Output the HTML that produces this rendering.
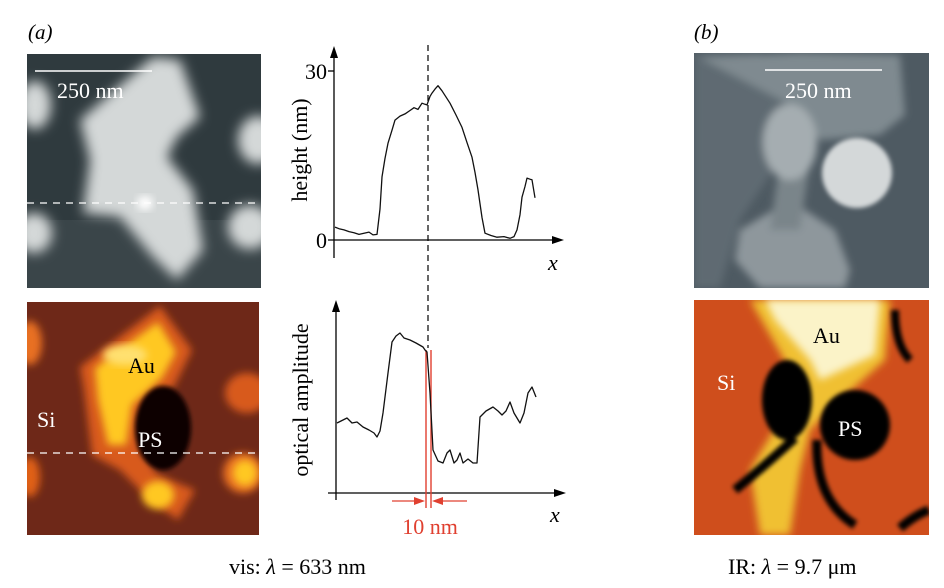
<!DOCTYPE html>
<html><head><meta charset="utf-8"><style>
html,body{margin:0;padding:0;background:#fff}
svg{display:block}
text{font-family:"Liberation Serif",serif}
</style></head><body>
<svg width="944" height="588" viewBox="0 0 944 588">
<defs>
<filter id="b4" x="-20%" y="-20%" width="140%" height="140%"><feGaussianBlur stdDeviation="4"/></filter>
<filter id="b6" x="-20%" y="-20%" width="140%" height="140%"><feGaussianBlur stdDeviation="6"/></filter>
<filter id="b2"><feGaussianBlur stdDeviation="2"/></filter>
<clipPath id="c1"><rect x="27" y="54" width="234" height="234"/></clipPath>
<clipPath id="c2"><rect x="27" y="302" width="232" height="233"/></clipPath>
<clipPath id="c3"><rect x="694" y="53" width="235" height="235"/></clipPath>
<clipPath id="c4"><rect x="694" y="300" width="235" height="235"/></clipPath>
</defs>

<text x="28" y="39" font-size="21" font-style="italic">(a)</text>
<text x="694" y="39" font-size="21" font-style="italic">(b)</text>

<g clip-path="url(#c1)">
<rect x="27" y="54" width="234" height="234" fill="#2f3a3e"/>
<rect x="27" y="220" width="234" height="68" fill="#3a4549"/>
<g filter="url(#b6)" fill="#d4d8d8">
<polygon points="80,120 153,57 180,60 200,117 177,137 167,157 193,190 203,250 177,280 153,257 120,217 83,213 90,160"/>
<ellipse cx="35" cy="105" rx="16" ry="24"/>
<ellipse cx="258" cy="140" rx="20" ry="24"/>
<ellipse cx="34" cy="233" rx="18" ry="20"/>
<ellipse cx="250" cy="227" rx="22" ry="22"/>
</g>
<ellipse cx="145" cy="203" rx="8" ry="7" fill="#ffffff" filter="url(#b4)"/>
<line x1="27" y1="203" x2="261" y2="203" stroke="#fff" stroke-width="1.2" stroke-dasharray="7,6"/>
<line x1="35" y1="71" x2="152" y2="71" stroke="#fff" stroke-width="1.5"/>
<text x="57" y="98" font-size="22" fill="#fff">250 nm</text>
</g>

<g clip-path="url(#c2)">
<rect x="27" y="302" width="232" height="233" fill="#6e2818"/>
<g filter="url(#b4)">
<polygon fill="#d85a1a" points="80,367 160,306 192,350 175,385 142,420 140,450 158,475 195,490 178,520 150,500 120,470 92,455 84,390"/>
<ellipse cx="30" cy="343" rx="12" ry="22" fill="#e87020"/>
<ellipse cx="247" cy="393" rx="22" ry="20" fill="#d85a1c"/>
<ellipse cx="243" cy="473" rx="20" ry="20" fill="#e87020"/>
<ellipse cx="30" cy="477" rx="10" ry="20" fill="#e06018"/>
</g>
<g filter="url(#b4)" fill="#ffc820">
<polygon points="95,368 158,322 176,352 162,378 132,405 126,445 108,445 98,400"/>
<ellipse cx="158" cy="495" rx="16" ry="14"/>
<ellipse cx="245" cy="473" rx="12" ry="13"/>
</g>
<ellipse cx="125" cy="355" rx="22" ry="10" fill="#ffe070" filter="url(#b4)"/>
<ellipse cx="163" cy="428" rx="28" ry="42" fill="#0a0404" filter="url(#b2)"/>
<line x1="27" y1="453" x2="259" y2="453" stroke="#fff" stroke-width="1.2" stroke-dasharray="7,6"/>
<text x="128" y="373" font-size="22" fill="#000">Au</text>
<text x="37" y="427" font-size="22" fill="#fff">Si</text>
<text x="138" y="447" font-size="22" fill="#fff">PS</text>
</g>

<g clip-path="url(#c3)">
<rect x="694" y="53" width="235" height="235" fill="#4e5a62"/>
<g filter="url(#b4)">
<polygon fill="#5e6a72" points="694,53 760,53 800,110 780,160 740,220 720,288 694,288"/>
<polygon fill="#7f8a90" points="700,58 800,53 900,55 905,115 880,135 820,140 800,110"/>
<polygon fill="#8e979c" points="740,230 790,200 835,230 850,270 845,288 760,288 735,260"/>
<polygon fill="#7a858a" points="780,160 810,160 800,230 770,230"/>
<ellipse cx="790" cy="142" rx="27" ry="38" fill="#a5adb1"/>
</g>
<circle cx="857" cy="173" r="35" fill="#d4d8d9" filter="url(#b2)"/>
<line x1="765" y1="70" x2="882" y2="70" stroke="#fff" stroke-width="1.5"/>
<text x="785" y="98" font-size="22" fill="#fff">250 nm</text>
</g>

<g clip-path="url(#c4)">
<rect x="694" y="300" width="235" height="235" fill="#cf4e1c"/>
<g filter="url(#b4)">
<polygon fill="#f0c030" points="750,300 890,300 885,360 840,400 810,430 800,470 790,535 760,535 750,470 780,420 790,370"/>
</g>
<polygon fill="#fbf3c8" points="765,300 880,300 875,355 820,380 810,360 775,320" filter="url(#b4)"/>
<g fill="#050202" filter="url(#b2)">
<circle cx="855" cy="425" r="35"/>
<ellipse cx="787" cy="400" rx="25" ry="40"/>
<path d="M795,438 Q760,470 735,490" stroke="#050202" stroke-width="9" fill="none"/>
<path d="M817,440 Q815,500 855,525" stroke="#050202" stroke-width="9" fill="none"/>
<path d="M895,310 Q895,345 910,360" stroke="#050202" stroke-width="8" fill="none"/>
<path d="M900,528 Q915,515 929,510" stroke="#050202" stroke-width="9" fill="none"/>
</g>
<text x="813" y="343" font-size="22" fill="#000">Au</text>
<text x="717" y="390" font-size="22" fill="#fff">Si</text>
<text x="838" y="436" font-size="22" fill="#fff">PS</text>
</g>

<g id="charts">
<line x1="334" y1="258" x2="334" y2="54" stroke="#000" stroke-width="1.3"/>
<polygon points="334,46 330,58 338,58" fill="#000"/>
<line x1="328" y1="240" x2="556" y2="240" stroke="#000" stroke-width="1.3"/>
<polygon points="564,240 552,236 552,244" fill="#000"/>
<line x1="328" y1="71" x2="334" y2="71" stroke="#000" stroke-width="1.3"/>
<text x="327" y="79" font-size="22" text-anchor="end">30</text>
<text x="327" y="248" font-size="22" text-anchor="end">0</text>
<text x="548" y="270" font-size="22" font-style="italic">x</text>
<text transform="translate(307,150) rotate(-90)" font-size="22" text-anchor="middle">height (nm)</text>

<line x1="336" y1="500" x2="336" y2="308" stroke="#000" stroke-width="1.3"/>
<polygon points="336,300 332,312 340,312" fill="#000"/>
<line x1="328" y1="493" x2="558" y2="493" stroke="#000" stroke-width="1.3"/>
<polygon points="566,493 554,489 554,497" fill="#000"/>
<text x="550" y="522" font-size="22" font-style="italic">x</text>
<text transform="translate(308,400) rotate(-90)" font-size="22" text-anchor="middle">optical amplitude</text>

<line x1="428" y1="45" x2="428" y2="348" stroke="#000" stroke-width="1.2" stroke-dasharray="6,4"/>
<line x1="426" y1="350" x2="426" y2="508" stroke="#e04030" stroke-width="1.4"/>
<line x1="431" y1="350" x2="431" y2="508" stroke="#e04030" stroke-width="1.4"/>
<line x1="392" y1="501" x2="420" y2="501" stroke="#e04030" stroke-width="1.2"/>
<polygon points="425,501 414,497 414,505" fill="#e04030"/>
<line x1="438" y1="501" x2="467" y2="501" stroke="#e04030" stroke-width="1.2"/>
<polygon points="432,501 443,497 443,505" fill="#e04030"/>
<text x="430" y="534" font-size="22" fill="#e04030" text-anchor="middle">10 nm</text>
</g>

<text x="229" y="574" font-size="22">vis:  <tspan font-style="italic">λ</tspan> = 633 nm</text>
<text x="728" y="574" font-size="22">IR:  <tspan font-style="italic">λ</tspan> = 9.7 μm</text>
</svg>
<script>
const hPos = [1, 5, 10, 15, 20, 25, 30, 35, 39, 43, 46, 48, 51, 54, 58, 61, 66, 71, 76, 80, 84, 88, 91, 93, 96, 98, 101, 104, 108, 116, 122, 128, 133, 138, 141, 144, 148, 151, 157, 163, 170, 176, 180, 183, 186, 188, 191, 193, 196, 198, 201];
const hVal = [2.3, 2.0, 1.8, 1.5, 1.3, 1.0, 1.2, 1.4, 0.9, 1.0, 5.5, 11.2, 14.5, 17.2, 19.5, 21.3, 22, 22.4, 23, 23.5, 23.2, 24.3, 24.1, 24, 25.5, 26.1, 26.8, 27.4, 26.5, 24.3, 22.2, 20, 17.3, 14.7, 12, 8.9, 4, 1.2, 0.8, 0.5, 0.6, 0.3, 0.6, 1.8, 4.5, 7.6, 9.5, 11, 10.8, 10.7, 7.5];
const oPos = [1, 5, 11, 16, 21, 27, 33, 38, 41, 44, 47, 52, 56, 60, 64, 68, 74, 80, 87, 89, 91, 94, 97, 102, 107, 111, 114, 118, 121, 124, 127, 132, 137, 141, 144, 150, 157, 162, 166, 170, 174, 178, 184, 188, 192, 196, 200];
const oVal = [70, 72, 75, 70, 71, 66, 63, 60, 56, 62, 80, 120, 151, 157, 160, 155, 153, 150, 146, 143, 141, 100, 43, 32, 30, 40, 43, 30, 33, 40, 30, 34, 30, 30, 76, 82, 86, 82, 78, 82, 91, 80, 70, 80, 100, 106, 96];
const hx = v => 334 + v, hy = v => 240 - v * 5.63;
const ox = v => 336 + v, oy = v => 493 - v;
const g = document.getElementById('charts');
function mk(xs, ys, fx, fy) {
  const p = document.createElementNS('http://www.w3.org/2000/svg', 'polyline');
  p.setAttribute('points', xs.map((x, i) => fx(x).toFixed(1) + ',' + fy(ys[i]).toFixed(1)).join(' '));
  p.setAttribute('fill', 'none');
  p.setAttribute('stroke', '#111');
  p.setAttribute('stroke-width', '1.3');
  p.setAttribute('stroke-linejoin', 'round');
  g.appendChild(p);
  return p;
}
const l1 = mk(hPos, hVal, hx, hy);


const l2 = mk(oPos, oVal, ox, oy);


</script>
</body></html>
